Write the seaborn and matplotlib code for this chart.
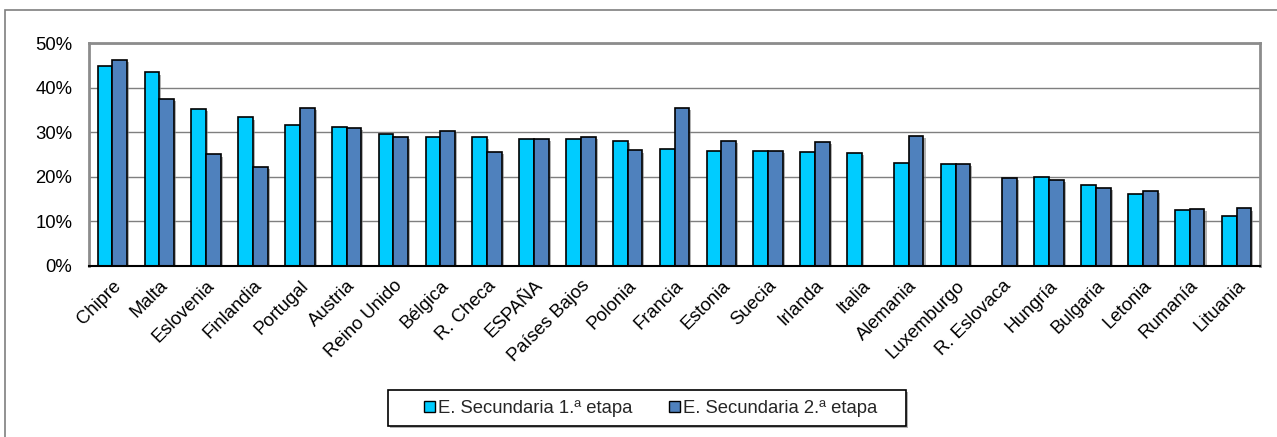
import matplotlib
matplotlib.use("Agg")
import matplotlib.pyplot as plt
import matplotlib.patheffects as pe
from matplotlib.patches import Rectangle, Patch
from matplotlib.ticker import PercentFormatter
import numpy as np
import pandas as pd
import seaborn as sns

# values (%)
countries = ["Chipre", "Malta", "Eslovenia", "Finlandia", "Portugal", "Austria",
             "Reino Unido", "Bélgica", "R. Checa", "ESPAÑA", "Países Bajos",
             "Polonia", "Francia", "Estonia", "Suecia", "Irlanda", "Italia",
             "Alemania", "Luxemburgo", "R. Eslovaca", "Hungría", "Bulgaria",
             "Letonia", "Rumanía", "Lituania"]
etapa1 = [44.8, 43.4, 35.2, 33.3, 31.7, 31.2, 29.6, 28.9, 28.9, 28.5, 28.5,
          28.0, 26.3, 25.8, 25.8, 25.6, 25.3, 23.0, 22.9, np.nan, 19.9, 18.2,
          16.1, 12.5, 11.2]
etapa2 = [46.1, 37.5, 25.0, 22.2, 35.5, 30.9, 28.9, 30.2, 25.5, 28.5, 28.9,
          25.9, 35.5, 28.1, 25.8, 27.8, np.nan, 29.1, 22.9, 19.7, 19.2, 17.4,
          16.8, 12.7, 12.9]
series = ["E. Secundaria 1.ª etapa", "E. Secundaria 2.ª etapa"]
colors = ["#00CCFF", "#4F81BD"]

df = pd.DataFrame({"pais": countries * 2,
                   "valor": etapa1 + etapa2,
                   "serie": [series[0]] * len(countries) + [series[1]] * len(countries)})

sns.set_style("white")
plt.rcParams["font.family"] = ["Liberation Sans", "DejaVu Sans"]
fs = 13.3
shadow = [pe.SimplePatchShadow(offset=(1.5, -1.5), shadow_rgbFace="gray", alpha=0.6), pe.Normal()]

fig = plt.figure(figsize=(12.77, 4.37), dpi=100)
ax = fig.add_axes([89 / 1277, 1 - 266 / 437, (1260 - 89) / 1277, (266 - 43) / 437])

sns.barplot(data=df, x="pais", y="valor", hue="serie", palette=colors,
            width=0.63, edgecolor="black", linewidth=1.2, ax=ax, legend=False,
            saturation=1)
for p in ax.patches:
    p.set_path_effects(shadow)

ax.set_ylim(0, 50)
ax.set_xlim(-0.5, len(countries) - 0.5)
ax.set_yticks([0, 10, 20, 30, 40, 50])
ax.yaxis.set_major_formatter(PercentFormatter(decimals=0))
ax.grid(axis="y", color="#7f7f7f", linewidth=1)
ax.set_axisbelow(True)
ax.set_xlabel("")
ax.set_ylabel("")
ax.tick_params(axis="both", length=0, labelsize=fs, colors="black")
ax.tick_params(axis="y", pad=12)
ax.tick_params(axis="x", pad=8)
plt.setp(ax.get_xticklabels(), rotation=45, ha="right", rotation_mode="anchor")

for side in ["top", "left", "right"]:
    ax.spines[side].set_color("#8c8c8c")
    ax.spines[side].set_linewidth(2)
ax.spines["bottom"].set_color("black")
ax.spines["bottom"].set_linewidth(1.5)

# outer chart frame
fig.add_artist(Rectangle((5 / 1277, -0.1), 1.2, 1 - 10 / 437 + 0.1,
                         transform=fig.transFigure, fill=False,
                         edgecolor="#7f7f7f", linewidth=1.2))

# legend box
fig.add_artist(Rectangle((388 / 1277, 1 - 426 / 437), 518 / 1277, 36 / 437,
                         transform=fig.transFigure, facecolor="white",
                         edgecolor="black", linewidth=1.2, path_effects=shadow))
handles = [Patch(facecolor=c, edgecolor="black", linewidth=1) for c in colors]
fig.legend(handles, series, loc="center", bbox_to_anchor=(650.5 / 1277, 1 - 408.5 / 437),
           ncol=2, frameon=False, fontsize=fs, handlelength=0.6, handleheight=0.6,
           handletextpad=0.18, columnspacing=1.95)

fig.savefig("out.png", dpi=100)
